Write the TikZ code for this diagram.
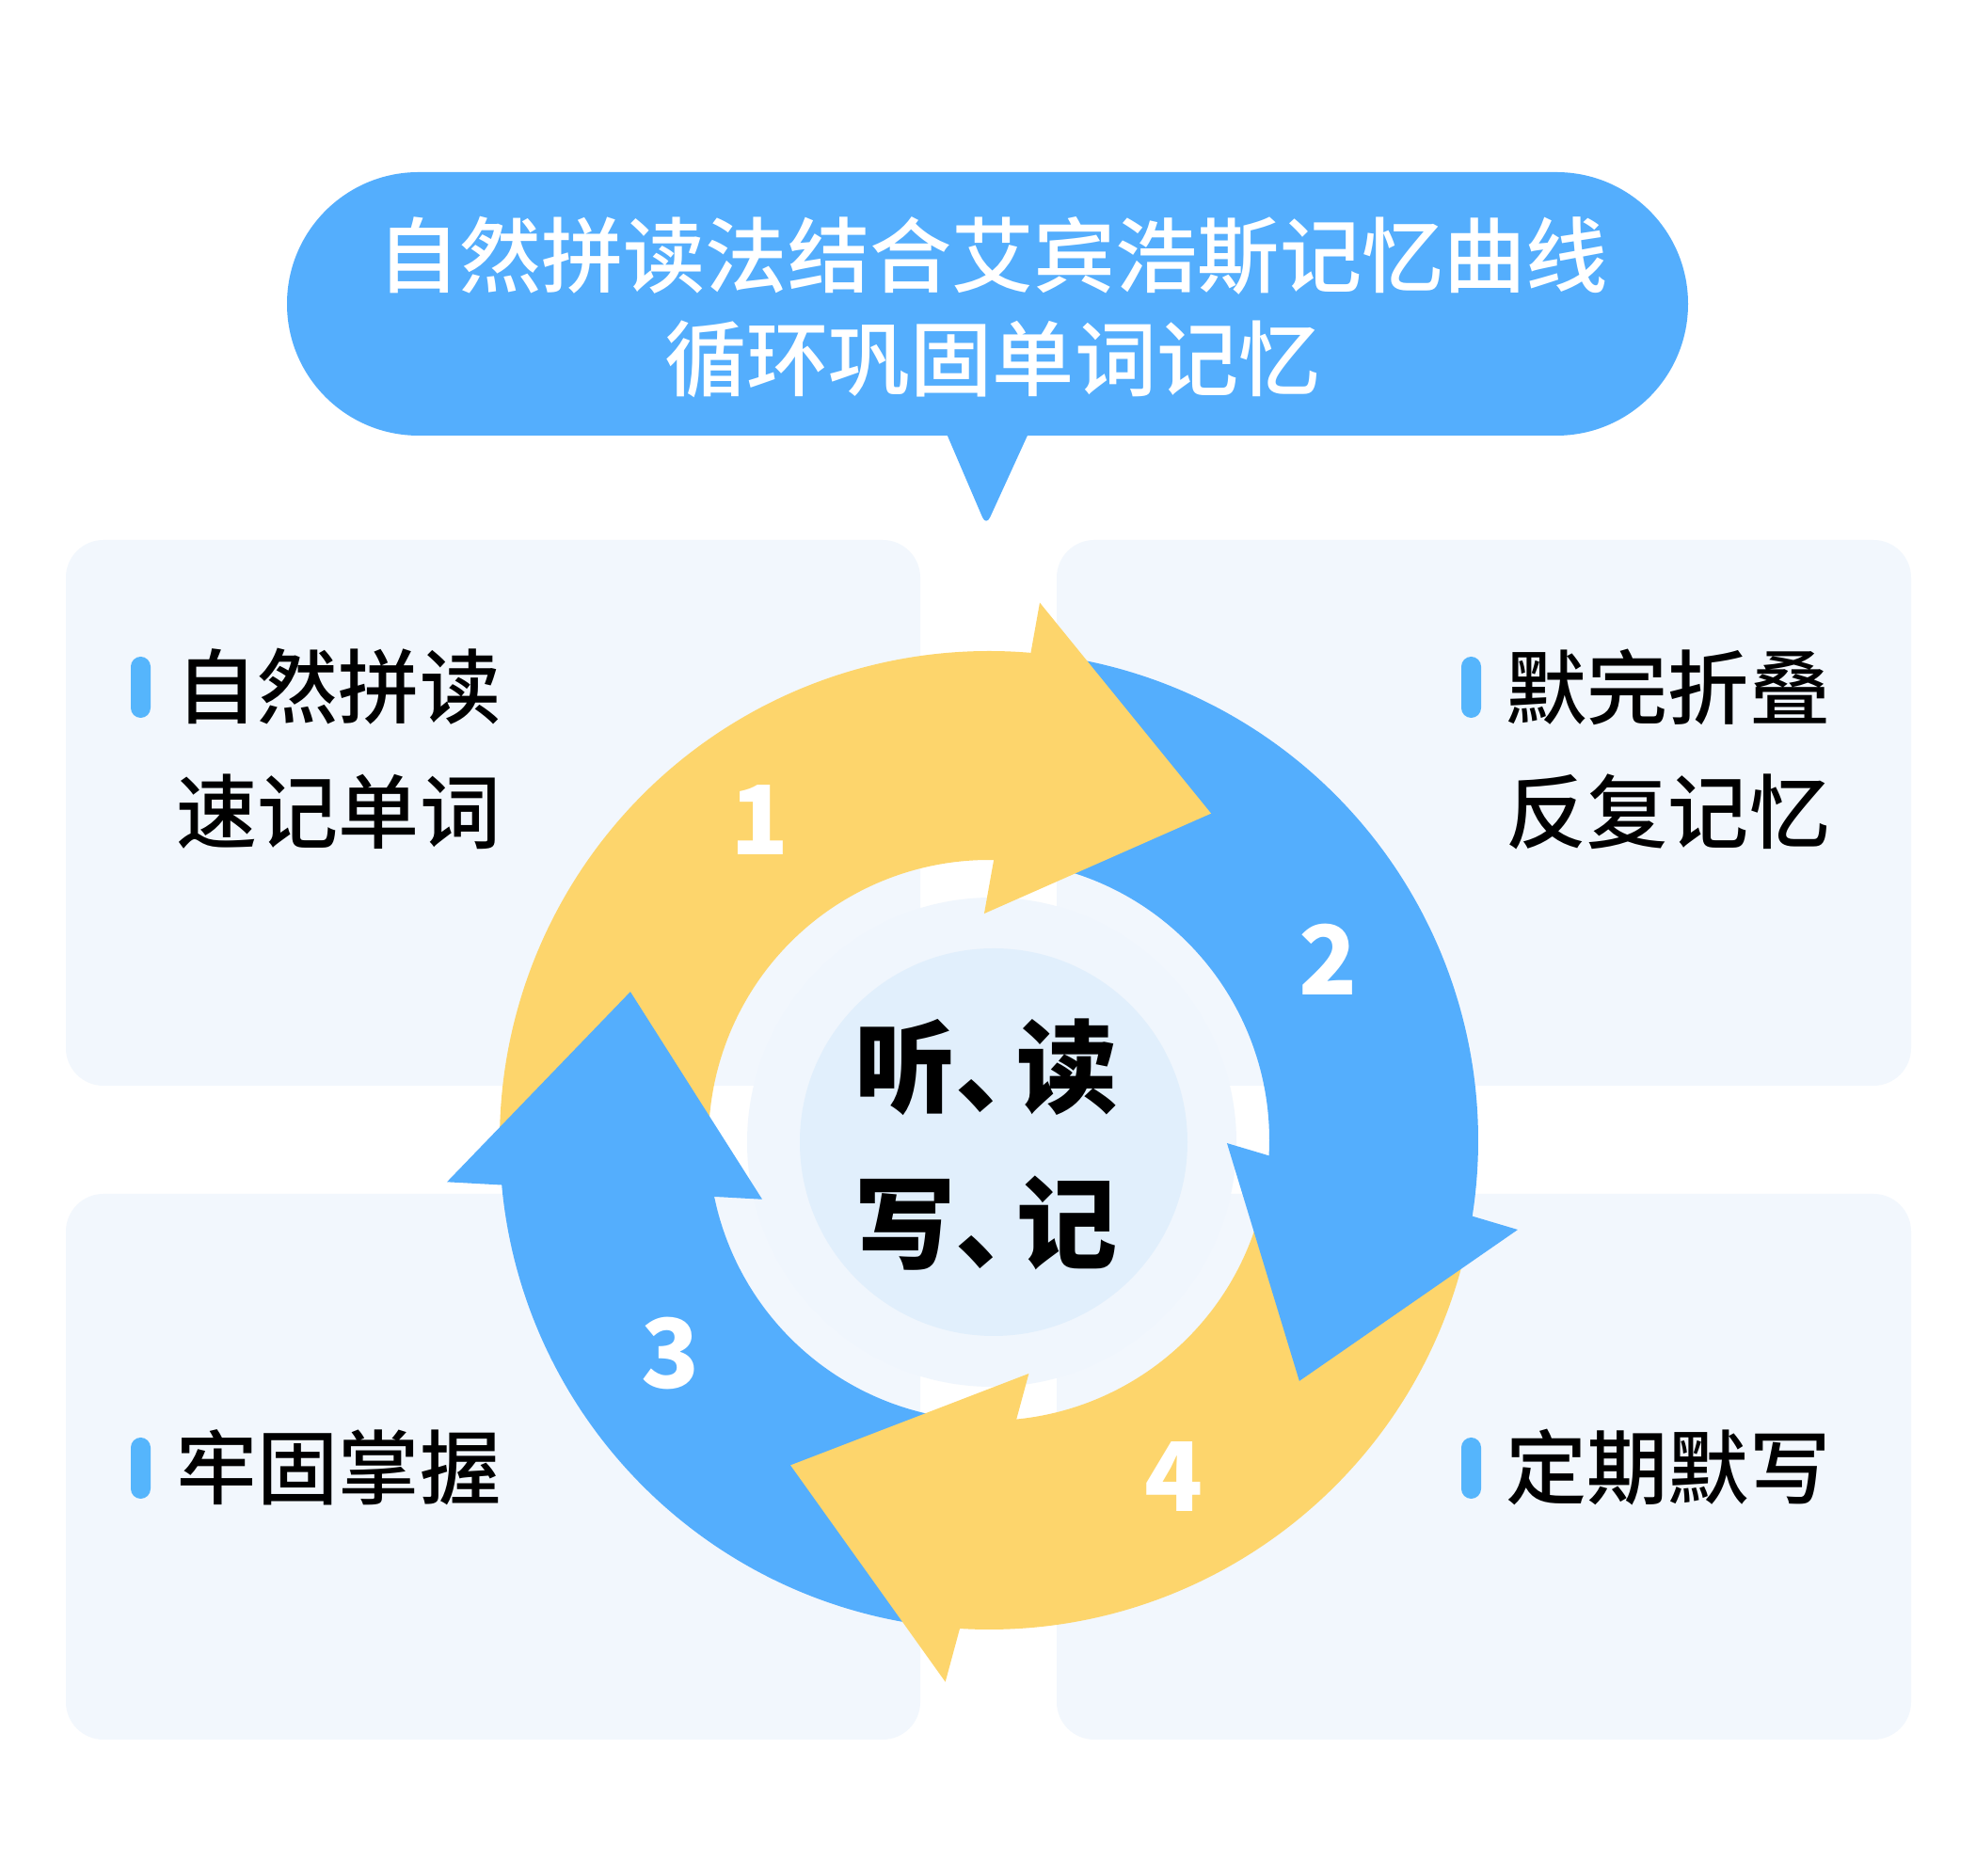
\documentclass[tikz,border=0pt]{standalone}
\usepackage{fontspec}
\setmainfont{Noto Sans CJK SC}
\newfontfamily\medfont{Noto Sans CJK SC Medium}
\definecolor{skyblue}{RGB}{84,174,253}
\definecolor{sunyellow}{RGB}{253,213,108}
\definecolor{panelbg}{RGB}{242,247,253}
\definecolor{ringbg}{RGB}{240,246,253}
\definecolor{corebg}{RGB}{225,239,252}
\definecolor{barblue}{RGB}{85,181,252}
\usepackage{tikz}
\tikzset{
  panel/.style={fill=panelbg, rounded corners=4mm},
  tagbar/.style={fill=barblue, rounded corners=1.05mm},
  steptext/.style={anchor=west, inner sep=0pt,
    font=\fontsize{24.5}{30}\selectfont\medfont},
  stepnum/.style={text=white, inner sep=0pt,
    font=\fontsize{29}{34}\selectfont\bfseries},
  coretext/.style={inner sep=0pt,
    font=\fontsize{30.5}{36}\selectfont\bfseries},
  titletext/.style={text=white, inner sep=0pt, align=center,
    font=\fontsize{24.8}{31.3}\selectfont\medfont},
}

\begin{document}
\begin{tikzpicture}
\fill[white] (0,0) rectangle (21,19.94);
\useasboundingbox (0,0) rectangle (21,19.94);

% panels
\foreach \x/\y in {0.70/8.40, 11.23/8.40, 0.70/1.45, 11.23/1.45}
  \fill[panel] (\x,\y) rectangle ++(9.08,5.80);

% speech bubble
\fill[skyblue, rounded corners=13.99mm] (3.05,15.31) rectangle (17.94,18.11);
\fill[skyblue, rounded corners=1mm] (10.03,15.40) -- (10.48,14.35) -- (10.96,15.40) -- cycle;
\node (title) [titletext] at (10.55,16.67)
  {自然拼读法结合艾宾浩斯记忆曲线\\循环巩固单词记忆};

% cycle
\fill[ringbg] (10.54,7.80) circle (2.60);
\fill[corebg] (10.56,7.80) circle (2.06);
\begin{scope}[shift={(10.51,7.82)}]
  \foreach \col/\tail/\outn/\inn in {
    sunyellow/181.7/84/88.2,
    skyblue/81.5/-10/-4.1,
    sunyellow/-12.5/-94.4/-85.2,
    skyblue/-96.9/-175.8/-169.4
  }{
    \fill[\col] (\tail:5.2) arc[start angle=\tail, end angle=\outn, radius=5.2]
      -- (\inn:2.98) arc[start angle=\inn, end angle=\tail, radius=2.98] -- cycle;
  }
  \foreach \col/\ia/\ri/\oa/\ro/\ta/\rt in {
    sunyellow/91.2/2.41/84.6/5.74/55.8/4.20,
    skyblue/-0.7/2.53/-9.6/5.70/-37.8/4.175,
    sunyellow/-80.3/2.516/-94.6/5.776/-121.4/4.047,
    skyblue/-165.4/2.49/-175.6/5.777/-202.5/4.125
  }{
    \fill[\col] (\ia:\ri) -- (\oa:\ro) -- (\ta:\rt) -- cycle;
  }
\end{scope}

\node (n1) [stepnum] at (8.08,11.22) {1};
\node (n2) [stepnum] at (14.12,9.74) {2};
\node (n3) [stepnum] at (7.13,5.55) {3};
\node (n4) [stepnum] at (12.48,4.24) {4};

\node (core1) [coretext] at (10.48,8.60) {听、\kern-.4em读};
\node (core2) [coretext] at (10.48,6.94) {写、\kern-.4em记};

% labels
\foreach \x/\y in {1.39/12.31, 15.53/12.31, 1.39/4.01, 15.53/4.01}
  \fill[tagbar] (\x,\y) rectangle ++(0.21,0.65);
\node (tl1) [steptext] at (1.87,12.64) {自然拼读};
\node (tl2) [steptext] at (1.87,11.31) {速记单词};
\node (tr1) [steptext] at (16.00,12.64) {默完折叠};
\node (tr2) [steptext] at (16.00,11.31) {反复记忆};
\node (bl1) [steptext] at (1.87,4.34) {牢固掌握};
\node (br1) [steptext] at (16.00,4.34) {定期默写};
\end{tikzpicture}
\end{document}
